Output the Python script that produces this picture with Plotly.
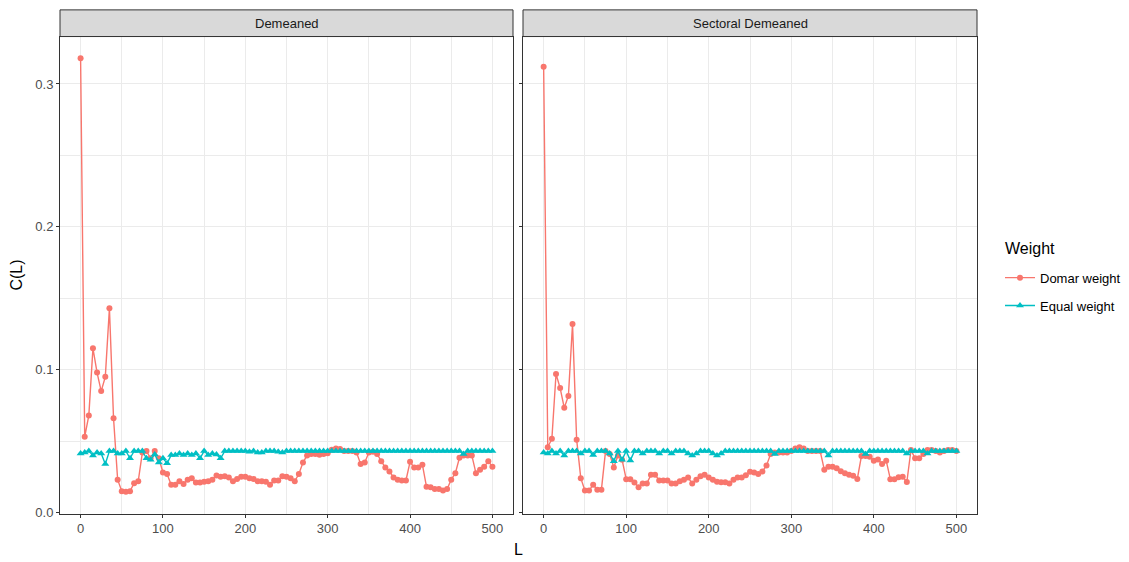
import plotly.graph_objects as go

# ---------------- data ----------------
L = [0, 5, 10, 15, 20, 25, 30, 35, 40, 45, 50, 55, 60, 65, 70, 75, 80, 85, 90, 95,
     100, 105, 110, 115, 120, 125, 130, 135, 140, 145, 150, 155, 160, 165, 170, 175, 180, 185, 190, 195,
     200, 205, 210, 215, 220, 225, 230, 235, 240, 245, 250, 255, 260, 265, 270, 275, 280, 285, 290, 295,
     300, 305, 310, 315, 320, 325, 330, 335, 340, 345, 350, 355, 360, 365, 370, 375, 380, 385, 390, 395,
     400, 405, 410, 415, 420, 425, 430, 435, 440, 445, 450, 455, 460, 465, 470, 475, 480, 485, 490, 495, 500]

panels = ["Demeaned", "Sectoral Demeaned"]
series = ["Domar weight", "Equal weight"]
legend_title = "Weight"

dem_domar = [0.318, 0.053, 0.068, 0.115, 0.098, 0.085, 0.095, 0.143, 0.066, 0.023,
             0.015, 0.0145, 0.015, 0.0205, 0.022, 0.042, 0.043, 0.038, 0.043, 0.038,
             0.028, 0.027, 0.0195, 0.0195, 0.022, 0.020, 0.023, 0.024, 0.021, 0.021,
             0.0215, 0.022, 0.023, 0.026, 0.025, 0.0255, 0.0245, 0.022, 0.0235, 0.025,
             0.025, 0.024, 0.0235, 0.022, 0.022, 0.0215, 0.0195, 0.0225, 0.0225, 0.0255,
             0.025, 0.024, 0.022, 0.027, 0.035, 0.040, 0.041, 0.041, 0.0405, 0.041,
             0.0415, 0.044, 0.0448, 0.0445, 0.043, 0.043, 0.043, 0.042, 0.034, 0.035,
             0.042, 0.0425, 0.041, 0.036, 0.0315, 0.0288, 0.0246, 0.023, 0.0225, 0.0225,
             0.0355, 0.0315, 0.0315, 0.0335, 0.018, 0.0177, 0.0165, 0.0165, 0.0155, 0.0165,
             0.023, 0.0276, 0.0384, 0.040, 0.040, 0.040, 0.0276, 0.030, 0.032, 0.036, 0.032]

dem_equal = [0.0414, 0.042, 0.043, 0.040, 0.042, 0.0414, 0.034, 0.043, 0.043, 0.0414,
             0.0414, 0.043, 0.038, 0.043, 0.043, 0.043, 0.038, 0.037, 0.0407, 0.035,
             0.038, 0.0345, 0.0402, 0.0402, 0.0414, 0.0402, 0.0414, 0.0402, 0.0414, 0.038,
             0.043, 0.0402, 0.0414, 0.0407, 0.038, 0.043, 0.043, 0.043, 0.043, 0.043,
             0.043, 0.0425, 0.043, 0.042, 0.042, 0.043, 0.043, 0.043, 0.0425, 0.042,
             0.043, 0.043, 0.043, 0.043, 0.043, 0.043, 0.043, 0.043, 0.043, 0.043,
             0.043, 0.043, 0.043, 0.043, 0.043, 0.043, 0.043, 0.043, 0.043, 0.043,
             0.043, 0.043, 0.043, 0.043, 0.043, 0.043, 0.043, 0.043, 0.043, 0.043,
             0.043, 0.043, 0.043, 0.043, 0.043, 0.043, 0.043, 0.043, 0.043, 0.043,
             0.043, 0.043, 0.043, 0.041, 0.043, 0.043, 0.043, 0.043, 0.043, 0.043, 0.043]

sec_domar = [0.312, 0.0457, 0.0517, 0.097, 0.0871, 0.0733, 0.0816, 0.132, 0.051, 0.0241,
             0.0154, 0.0154, 0.0195, 0.016, 0.016, 0.043, 0.041, 0.0315, 0.040, 0.037,
             0.0234, 0.0234, 0.021, 0.0177, 0.0204, 0.0204, 0.0264, 0.0265, 0.0225, 0.0225,
             0.0225, 0.0204, 0.0204, 0.022, 0.023, 0.0245, 0.0204, 0.023, 0.0255, 0.0265,
             0.0245, 0.023, 0.0215, 0.0213, 0.0213, 0.0204, 0.023, 0.0245, 0.0245, 0.0262,
             0.0285, 0.028, 0.027, 0.0287, 0.033, 0.041, 0.042, 0.042, 0.042, 0.042,
             0.043, 0.0448, 0.0457, 0.0448, 0.043, 0.043, 0.043, 0.043, 0.030, 0.032,
             0.032, 0.031, 0.029, 0.0276, 0.0264, 0.0258, 0.0235, 0.0395, 0.0395, 0.039,
             0.0363, 0.0372, 0.034, 0.0363, 0.0234, 0.0234, 0.0248, 0.025, 0.0214, 0.0437,
             0.038, 0.038, 0.041, 0.0437, 0.0437, 0.043, 0.042, 0.043, 0.0437, 0.0437, 0.043]

sec_equal = [0.042, 0.0414, 0.043, 0.0414, 0.043, 0.040, 0.043, 0.043, 0.043, 0.0414,
             0.043, 0.043, 0.0402, 0.043, 0.043, 0.043, 0.0414, 0.036, 0.043, 0.037,
             0.043, 0.0365, 0.043, 0.043, 0.0414, 0.043, 0.043, 0.043, 0.0414, 0.043,
             0.043, 0.0414, 0.043, 0.043, 0.043, 0.0414, 0.040, 0.0414, 0.043, 0.043,
             0.043, 0.0414, 0.040, 0.0414, 0.043, 0.043, 0.043, 0.043, 0.043, 0.043,
             0.043, 0.043, 0.043, 0.043, 0.043, 0.043, 0.041, 0.043, 0.043, 0.043,
             0.043, 0.043, 0.043, 0.043, 0.043, 0.043, 0.043, 0.043, 0.043, 0.040,
             0.043, 0.043, 0.043, 0.043, 0.043, 0.043, 0.043, 0.043, 0.041, 0.043,
             0.043, 0.043, 0.043, 0.043, 0.043, 0.043, 0.043, 0.043, 0.0414, 0.043,
             0.043, 0.043, 0.043, 0.0414, 0.043, 0.043, 0.043, 0.043, 0.043, 0.043, 0.043]

x_ticks = [0, 100, 200, 300, 400, 500]
y_ticks = [0.0, 0.1, 0.2, 0.3]
y_tick_text = ["0.0", "0.1", "0.2", "0.3"]

# ---------------- styling ----------------
W, H = 1129, 562
RED, TEAL = "#F8766D", "#00BFC4"
FONT = "Liberation Sans, Arial, sans-serif"
GRID = "#EBEBEB"
BORDER = "#333333"

px_left = (60, 513)
px_right = (523, 977)
py_top, py_bot = 37, 520
strip_top = 10

def fx(p):
    return p / W

def fy(p):
    return (H - p) / H

all_vals = dem_domar + dem_equal + sec_domar + sec_equal
lo, hi = min(all_vals), max(all_vals)
span = hi - lo
y_range = [lo - 0.05 * span, hi + 0.05 * span]
x_range = [L[0] - 0.05 * (L[-1] - L[0]), L[-1] + 0.05 * (L[-1] - L[0])]

fig = go.Figure()

data = [(dem_domar, dem_equal), (sec_domar, sec_equal)]
for i, (dom, eq) in enumerate(data):
    xa = "x" if i == 0 else "x2"
    ya = "y" if i == 0 else "y2"
    fig.add_trace(go.Scatter(
        x=L, y=dom, mode="lines+markers", name=series[0], xaxis=xa, yaxis=ya,
        line=dict(color=RED, width=1.4),
        marker=dict(color=RED, size=6, symbol="circle"),
        legendgroup="a", showlegend=(i == 0)))
    fig.add_trace(go.Scatter(
        x=L, y=eq, mode="lines+markers", name=series[1], xaxis=xa, yaxis=ya,
        line=dict(color=TEAL, width=1.4),
        marker=dict(color=TEAL, size=7, symbol="triangle-up"),
        legendgroup="b", showlegend=(i == 0)))

axis_common = dict(
    showline=True, mirror=True, linecolor=BORDER, linewidth=1,
    showgrid=True, gridcolor=GRID, gridwidth=1.1,
    ticks="outside", ticklen=3, tickcolor=BORDER, tickwidth=1,
    tickfont=dict(family=FONT, size=13, color="#4D4D4D"),
    zeroline=False,
)

xcommon = dict(axis_common, range=x_range, tickvals=x_ticks,
               minor=dict(dtick=50, tick0=0, showgrid=True, gridcolor=GRID, gridwidth=0.6, ticks=""))
ycommon = dict(axis_common, range=y_range, tickvals=y_ticks, ticktext=y_tick_text,
               minor=dict(dtick=0.05, tick0=0, showgrid=True, gridcolor=GRID, gridwidth=0.6, ticks=""))

fig.update_layout(
    width=W, height=H,
    margin=dict(l=0, r=0, t=0, b=0),
    paper_bgcolor="white", plot_bgcolor="white",
    font=dict(family=FONT, color="#000000"),
    xaxis=dict(xcommon, domain=[fx(px_left[0]), fx(px_left[1])], anchor="y"),
    xaxis2=dict(xcommon, domain=[fx(px_right[0]), fx(px_right[1])], anchor="y2"),
    yaxis=dict(ycommon, domain=[fy(py_bot), fy(py_top)], anchor="x",
               title=dict(text="C(L)", font=dict(family=FONT, size=16, color="#000000"), standoff=8)),
    yaxis2=dict(ycommon, domain=[fy(py_bot), fy(py_top)], anchor="x2", showticklabels=False),
    legend=dict(
        x=fx(1000), y=fy(266), xanchor="left", yanchor="top",
        font=dict(family=FONT, size=13, color="#000000"),
        traceorder="grouped", tracegroupgap=8, bgcolor="rgba(0,0,0,0)",
        itemwidth=30,
    ),
)

# legend title
fig.add_annotation(xref="paper", yref="paper", x=fx(1003), y=fy(252),
                   text=legend_title, showarrow=False, xanchor="left", yanchor="middle",
                   font=dict(family=FONT, size=16, color="#000000"))

# facet strips
for (x0, x1), name in zip([px_left, px_right], panels):
    fig.add_shape(type="rect", xref="paper", yref="paper",
                  x0=fx(x0), x1=fx(x1), y0=fy(py_top), y1=fy(strip_top),
                  fillcolor="#D9D9D9", line=dict(color=BORDER, width=1), layer="above")
    fig.add_annotation(xref="paper", yref="paper", x=fx((x0 + x1) / 2), y=fy((py_top + strip_top) / 2),
                       text=name, showarrow=False, xanchor="center", yanchor="middle",
                       font=dict(family=FONT, size=13, color="#1A1A1A"))

# shared x title
fig.add_annotation(xref="paper", yref="paper", x=fx((px_left[0] + px_right[1]) / 2), y=fy(556),
                   text="L", showarrow=False, xanchor="center", yanchor="middle",
                   font=dict(family=FONT, size=16, color="#000000"))

fig.write_html("out.html")
